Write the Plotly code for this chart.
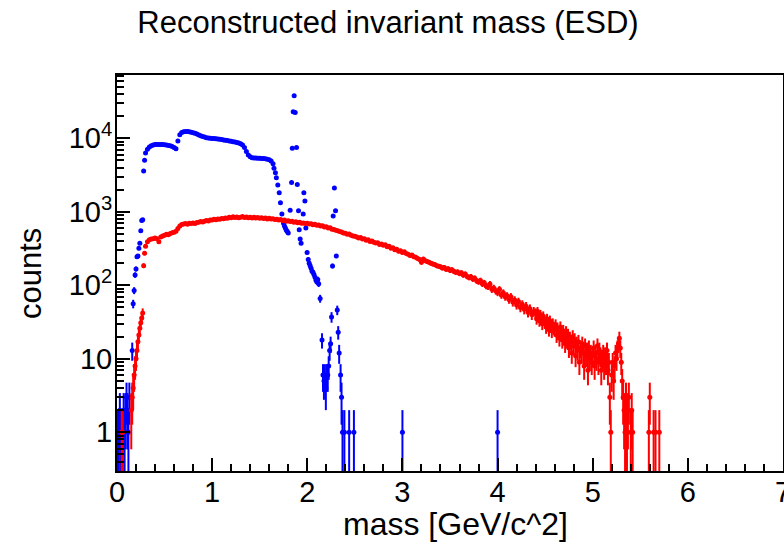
import math
import plotly.graph_objects as go

# ---------------- data (bin centre in GeV/c^2, counts) ----------------
# blue histogram
blue_a_start, blue_a_step = 0.01, 0.01
blue_a_counts = [1, 1, 2, 1, 1, 1, 2, 1, 2, 3, 2, 1, 3, None, None,
                 13, 56, 85, 138, 167, 245, 250, 318, 372, 552, 760, 780, 3590, 5040]

blue_b_start, blue_b_step = 0.30, 0.02
blue_b_counts = [6300, 7100, 7600, 7900, 8100, 8200, 8250, 8250, 8200, 8200,
                 8150, 8100, 8000, 7900, 7750, 7500, 7200, 9200, 11200, 12000,
                 12300, 12400, 12400, 12300, 12100, 11900, 11700, 11400, 11100, 10800,
                 10600, 10400, 10200, 10100, 10000, 9950, 9900, 9850, 9800, 9700,
                 9600, 9500, 9400, 9300, 9200, 9100, 9000, 8900, 8750, 8600,
                 8400, 8100, 7500, 6600, 5900, 5600, 5450, 5400, 5400, 5350,
                 5350, 5300, 5300, 5250, 5200, 5100, 4900, 4500]

blue_c_mass = [1.650, 1.665, 1.675, 1.690, 1.705, 1.718, 1.733, 1.750, 1.760, 1.770,
               1.780, 1.790, 1.800, 1.820, 1.835, 1.842, 1.852, 1.862, 1.873, 1.887,
               1.895, 1.908, 1.915, 1.925, 1.935, 1.957, 1.964, 1.975, 1.985, 1.998,
               2.010, 2.020, 2.030, 2.040, 2.050, 2.060, 2.070, 2.080, 2.090, 2.100,
               2.110, 2.120, 2.135, 2.155, 2.165, 2.175, 2.185, 2.195, 2.205, 2.215,
               2.225, 2.235, 2.245, 2.255, 2.265, 2.272, 2.285, 2.297, 2.305, 2.315,
               2.325, 2.335, 2.350, 2.360, 2.370, 2.390, 2.440, 2.490, 3.000, 4.000]
blue_c_counts = [3900, 3400, 2900, 2320, 1820, 1330, 930, 700, 640, 600,
                 560, 540, 515, 1050, 2500, 7300, 23000, 38000, 22500, 7500,
                 2350, 1030, 570, 425, 372, 930, 1820, 1400, 600, 280,
                 225, 200, 185, 170, 155, 150, 140, 130, 118, 112,
                 120, 105, 66, 18, 6, 5, 6, 4, 6, 6,
                 8, 13, 16, 37, 183, 877, 2100, 1030, 250, 46,
                 23, 12, 6, 3, 1, 1, 1, 1, 1, 1]

# red histogram
red_a_start, red_a_step = 0.05, 0.01
red_a_counts = [1, 1, None, None, None, None, None, None, None, None,
                2, 3, 4, 6, 8, 10, 13, 17, 21, 26, 31, 36, 42, 185, 272]

red_b_start, red_b_step = 0.30, 0.02
red_b_counts = [340, 390, 415, 425, 430, 440, 430, 390, 455, 470,
                480, 495, 485, 505, 520, 525, 545, 590, 640, 670,
                680, 690, 675, 700, 690, 705, 695, 715, 720, 735,
                725, 745, 760, 750, 775, 770, 790, 780, 800, 790,
                810, 805, 825, 815, 840, 830, 855, 835, 850, 830,
                845, 860, 835, 850, 830, 845, 825, 840, 820, 835,
                815, 830, 810, 820, 800, 815, 795, 805, 785, 790,
                770, 785, 760, 770, 745, 755, 735, 745, 720, 730,
                710, 720, 700, 705, 690, 700, 680, 685, 665, 675,
                655, 660, 640, 645, 620, 625, 600, 605, 580, 575,
                560, 550, 540, 530, 515, 510, 495, 500, 480, 470,
                465, 455, 440, 445, 425, 430, 410, 415, 395, 400,
                385, 375, 380, 360, 365, 350, 355, 335, 340, 320,
                325, 305, 310, 290, 295, 280, 285, 270, 265, 255,
                258, 245, 240, 232, 225, 205, 228, 215, 210, 205,
                200, 195, 192, 185, 182, 178, 172, 175, 165, 168,
                160, 163, 155, 150, 152, 145, 148, 138, 142, 132,
                128, 131, 122, 125, 115, 112, 116, 105, 108, 98,
                96, 104, 88, 92, 84, 80, 88, 74, 79, 70,
                72, 64, 70, 59, 63, 54, 60, 50, 55, 47,
                52, 43, 48, 40, 44]

red_c_start, red_c_step = 4.40, 0.01
red_c_counts = [42, 35, 44, 38, 33, 40, 36, 30, 38, 34,
                31, 27, 35, 29, 25, 33, 28, 24, 30, 26,
                25, 29, 21, 26, 23, 19, 27, 22, 18, 24,
                20, 16, 23, 18, 21, 14, 19, 17, 12, 20,
                15, 18, 11, 16, 13, 17, 9, 14, 12, 16,
                12, 8, 15, 11, 13, 7, 14, 10, 12, 9,
                11, 14, 8, 12, 10, 15, 9, 13, 11, 7,
                10, 12, 8, 11, 9, 13, 7, 9, 3, 1,
                6, 9, 5, 8, 12, 10, 14, 16, 19, 14,
                9, 5, 3, 2, 1, 3, 1, 2, 3, None,
                1, 2, 1]

red_d_mass = [5.59, 5.60, 5.64, 5.66, 5.70]
red_d_counts = [1, 3, 1, 1, 1]

y_tick_vals = [1, 10, 100, 1000, 10000]
y_tick_text = ["1", "10", "10<sup>2</sup>", "10<sup>3</sup>", "10<sup>4</sup>"]
x_tick_vals = [0, 1, 2, 3, 4, 5, 6, 7]


# ---------------- helpers ----------------
def grid(start, step, counts):
    return [round(start + i * step, 4) for i in range(len(counts))], list(counts)


def assemble(parts):
    xs, ys = [], []
    for px, py in parts:
        for a, b in zip(px, py):
            if b is not None and b > 0:
                xs.append(a)
                ys.append(b)
    return xs, ys


blue_x, blue_y = assemble([grid(blue_a_start, blue_a_step, blue_a_counts),
                           grid(blue_b_start, blue_b_step, blue_b_counts),
                           (blue_c_mass, blue_c_counts)])
red_x, red_y = assemble([grid(red_a_start, red_a_step, red_a_counts),
                         grid(red_b_start, red_b_step, red_b_counts),
                         grid(red_c_start, red_c_step, red_c_counts),
                         (red_d_mass, red_d_counts)])


def errors(ys):
    up = [math.sqrt(v) for v in ys]
    dn = [min(math.sqrt(v), v * 0.999) for v in ys]
    return up, dn


FONT = "Liberation Sans, Arial, Helvetica, sans-serif"

fig = go.Figure()
for xs, ys, col in [(blue_x, blue_y, "#0000ff"), (red_x, red_y, "#ff0000")]:
    up, dn = errors(ys)
    fig.add_trace(go.Scatter(
        x=xs, y=ys, mode="markers",
        marker=dict(color=col, size=5, line=dict(width=0)),
        error_y=dict(type="data", array=up, arrayminus=dn, symmetric=False,
                     color=col, thickness=2, width=0),
        showlegend=False, hoverinfo="skip"))

minor_y = [m * 10 ** d for d in range(-1, 5) for m in range(2, 10)]
minor_y = [v for v in minor_y if 0.29 < v < 73000]

fig.update_layout(
    width=784, height=545,
    margin=dict(l=117, r=1, t=75, b=74, autoexpand=False),
    paper_bgcolor="white", plot_bgcolor="white",
    font=dict(family=FONT, size=29, color="black"),
    title=dict(text="Reconstructed invariant mass (ESD)", xref="container", yref="container",
               x=388 / 784, y=1 - 22 / 545, xanchor="center", yanchor="middle",
               font=dict(family=FONT, size=31, color="black")),
    xaxis=dict(range=[0, 7], tickmode="array", tickvals=x_tick_vals, automargin=False,
               ticks="inside", ticklen=13, tickwidth=1.5, tickcolor="black",
               showline=True, linecolor="black", linewidth=2, mirror=True,
               showgrid=False, zeroline=False, ticklabeloverflow="allow",
               ticklabelstandoff=-6,
               tickfont=dict(family=FONT, size=29, color="black"),
               minor=dict(ticks="inside", ticklen=7, tickwidth=1.5, tickcolor="black",
                          dtick=0.2, showgrid=False)),
    yaxis=dict(type="log", range=[-0.527, 4.861], tickmode="array", automargin=False,
               tickvals=y_tick_vals, ticktext=y_tick_text,
               ticks="inside", ticklen=13, tickwidth=1.5, tickcolor="black",
               showline=True, linecolor="black", linewidth=2, mirror=True,
               showgrid=False, zeroline=False, ticklabelstandoff=-3,
               tickfont=dict(family=FONT, size=29, color="black"),
               minor=dict(ticks="inside", ticklen=7, tickwidth=1.5, tickcolor="black",
                          tickmode="array", tickvals=minor_y, showgrid=False)),
    annotations=[
        dict(text="mass [GeV/c^2]", xref="paper", yref="paper",
             x=(455 - 117) / 666, y=(471 - 524) / 396, xanchor="center", yanchor="middle",
             showarrow=False, font=dict(family=FONT, size=32, color="black")),
        dict(text="counts", xref="paper", yref="paper", textangle=-90,
             x=(30 - 117) / 666, y=(471 - 274) / 396, xanchor="center", yanchor="middle",
             showarrow=False, font=dict(family=FONT, size=31, color="black")),
    ],
)

fig.write_html("out.html", config={"displayModeBar": False},
               post_script="document.body.style.margin='0';document.body.style.padding='0';")
